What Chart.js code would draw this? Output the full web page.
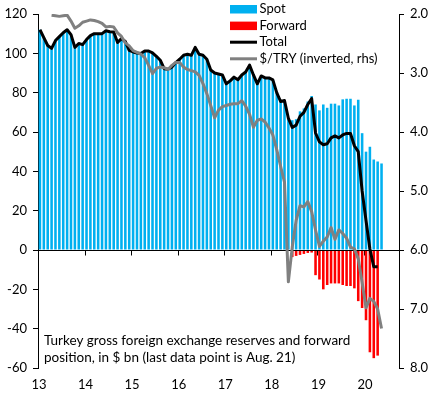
<!DOCTYPE html>
<html>
<head>
<meta charset="utf-8">
<script src="https://cdn.jsdelivr.net/npm/chart.js@4.4.0/dist/chart.umd.min.js"></script>
<style>
    html, body { margin: 0; padding: 0; background: #fff; }
    #wrap { width: 432px; height: 397px; }
</style>
</head>
<body>
<div id="wrap"><canvas id="reservesChart" width="432" height="397"></canvas></div>
<script>
// Monthly categories from Jan 2013; the axis runs a few months past the last bar
const monthNames = ['Jan', 'Feb', 'Mar', 'Apr', 'May', 'Jun', 'Jul', 'Aug', 'Sep', 'Oct', 'Nov', 'Dec'];
const categories = [];
for (let i = 0; i < 93; i++) {
    categories.push(monthNames[i % 12] + '-' + (13 + Math.floor(i / 12)));
}

const yearLabels = ['13', '14', '15', '16', '17', '18', '19', '20'];

// $ bn, left axis
const spot = [
    112, 108, 104, 102.5, 106.5, 108.5, 110.5, 112, 109.5, 103,
    105, 104.4, 107, 109, 110, 110, 110, 111.5, 111, 110.8,
    105.5, 107.5, 106, 101.5, 100.7, 100.2, 99.9, 101.2, 101.2, 100.2,
    98.5, 96.5, 92.2, 91.9, 93, 95.3, 97, 99, 99.5, 99,
    103, 99.5, 99, 97, 91.5, 90, 89.5, 89, 84.5, 86,
    87.9, 86.6, 89, 90.5, 94, 89, 84.5, 88.5, 87.5, 87.5,
    86.5, 80, 75.5, 76, 67, 66, 66.5, 70.5, 72, 75.5,
    78.3, 74, 71, 74, 72.3, 74.4, 74.4, 73.5, 76.6, 76.9,
    76.9, 73.5, 76.4, 59.4, 50, 52.5, 46, 45, 44, null,
    null, null, null
];

const forward = [
    0, 0, 0, 0, 0, 0, 0, 0, 0, 0,
    0, 0, 0, 0, 0, 0, 0, 0, 0, 0,
    0, 0, 0, 0, 0, 0, 0, 0, 0, 0,
    0, 0, 0, 0, 0, 0, 0, 0, 0, 0,
    0, 0, 0, 0, 0, 0, 0, 0, 0, 0,
    0, 0, 0, 0, 0, 0, 0, 0, 0, 0,
    0, 0, 0, 0, 0, -3.6, -3.0, -2.5, -2.0, -1.5,
    -1.3, -12.8, -15, -20, -17.8, -17, -17, -17, -17.8, -18.3,
    -18.3, -19.5, -26, -29.5, -35.7, -52, -55, -53.7, null, null,
    null, null, null
];

const total = [
    112, 108, 104, 102.5, 106.5, 108.5, 110.5, 112, 109.5, 103,
    105, 104.4, 107, 109, 110, 110, 110, 111.5, 111, 110.8,
    105.5, 107.5, 106, 101.5, 100.7, 100.2, 99.9, 101.2, 101.2, 100.2,
    98.5, 96.5, 92.2, 91.9, 93, 95.3, 97, 99, 99.5, 99,
    103, 99.5, 99, 97, 91.5, 90, 89.5, 89, 84.5, 86,
    87.9, 86.6, 89, 90.5, 94, 89, 84.5, 88.5, 87.5, 87.5,
    86.5, 80, 75.5, 76, 67, 62.3, 63.5, 68, 70, 74,
    77, 59.5, 55, 53.5, 54, 57, 58, 57, 58.5, 59.3,
    59.2, 53, 50, 30, 15, 0.5, -8.5, -8.5, null, null,
    null, null, null
];

// $/TRY, right axis (inverted)
const usdTry = [
    null, null, null, 2.02, 2.03, 2.04, 2.03, 2.02, 2.12, 2.24,
    2.2, 2.14, 2.12, 2.1, 2.11, 2.13, 2.16, 2.22, 2.21, 2.22,
    2.32, 2.38, 2.49, 2.54, 2.62, 2.65, 2.68, 2.74, 2.87, 3.01,
    2.92, 2.9, 2.91, 2.94, 2.87, 2.82, 2.82, 2.9, 2.94, 2.96,
    2.98, 3.04, 3.18, 3.35, 3.55, 3.76, 3.63, 3.57, 3.55, 3.53,
    3.52, 3.52, 3.47, 3.56, 3.7, 3.92, 3.8, 3.78, 3.83, 3.93,
    4.05, 4.3, 4.58, 4.85, 6.54, 5.95, 5.5, 5.25, 5.27, 5.18,
    5.35, 5.66, 5.94, 5.85, 5.78, 5.62, 5.82, 5.66, 5.72, 5.8,
    5.95, 5.98, 6.15, 6.55, 6.98, 6.82, 6.87, 7.0, 7.33, null,
    null, null, null
];

const FONT = 'Lato';

// Zero line across the plot, with year tick marks hanging below it
const zeroAxisPlugin = {
    id: 'zeroAxis',
    beforeDatasetsDraw(chart) {
        const { ctx, scales: { x, y } } = chart;
        const y0 = Math.round(y.getPixelForValue(0)) + 0.5;
        ctx.save();
        ctx.strokeStyle = '#000';
        ctx.lineWidth = 1;
        ctx.beginPath();
        for (let k = 12; k < categories.length; k += 12) {
            const xp = Math.round((x.getPixelForValue(k - 1) + x.getPixelForValue(k)) / 2) + 0.5;
            ctx.moveTo(xp, y0);
            ctx.lineTo(xp, y0 + 5);
        }
        ctx.stroke();
        ctx.restore();
    },
    afterDatasetDraw(chart, args) {
        if (args.index !== 0) return;
        const { ctx, chartArea, scales: { y } } = chart;
        const y0 = Math.round(y.getPixelForValue(0)) + 0.5;
        ctx.save();
        ctx.strokeStyle = '#000';
        ctx.lineWidth = 1;
        ctx.beginPath();
        ctx.moveTo(chartArea.left, y0);
        ctx.lineTo(chartArea.right, y0);
        ctx.stroke();
        ctx.restore();
    }
};

// Legend stacked in the top right corner
const cornerLegendPlugin = {
    id: 'cornerLegend',
    afterDraw(chart) {
        const ctx = chart.ctx;
        ctx.save();
        ctx.font = '13px ' + FONT;
        ctx.textBaseline = 'middle';
        chart.data.datasets.forEach((ds, i) => {
            const rowY = 9 + i * 16.6;
            if (ds.type === 'bar') {
                ctx.fillStyle = ds.backgroundColor;
                ctx.fillRect(230, rowY - 4, 27, 8.5);
            } else {
                ctx.strokeStyle = ds.borderColor;
                ctx.lineWidth = 3;
                ctx.beginPath();
                ctx.moveTo(230, rowY);
                ctx.lineTo(257, rowY);
                ctx.stroke();
            }
            ctx.fillStyle = '#000';
            ctx.fillText(ds.label, 259.5, rowY);
        });
        ctx.restore();
    }
};

// Note in the lower left of the plot
const notePlugin = {
    id: 'note',
    afterDraw(chart) {
        const ctx = chart.ctx;
        ctx.save();
        ctx.font = '13.5px ' + FONT;
        ctx.fillStyle = '#000';
        ctx.textBaseline = 'middle';
        ctx.fillText('Turkey gross foreign exchange reserves and forward', 44, 341);
        ctx.fillText('position, in $ bn (last data point is Aug. 21)', 44, 357.5);
        ctx.restore();
    }
};

function initChart() {
    const ctx = document.getElementById('reservesChart').getContext('2d');
    new Chart(ctx, {
        type: 'bar',
        data: {
            labels: categories,
            datasets: [
                {
                    type: 'bar',
                    label: 'Spot',
                    data: spot,
                    backgroundColor: '#00B0F0',
                    stack: 'reserves',
                    yAxisID: 'y',
                    barPercentage: 0.66,
                    categoryPercentage: 1.0,
                    order: 3
                },
                {
                    type: 'bar',
                    label: 'Forward',
                    data: forward,
                    backgroundColor: '#FF0000',
                    stack: 'reserves',
                    yAxisID: 'y',
                    barPercentage: 0.66,
                    categoryPercentage: 1.0,
                    order: 3
                },
                {
                    type: 'line',
                    label: 'Total',
                    data: total,
                    borderColor: '#000000',
                    borderWidth: 3,
                    pointRadius: 0,
                    tension: 0,
                    borderJoinStyle: 'round',
                    stack: 'total',
                    yAxisID: 'y',
                    order: 2
                },
                {
                    type: 'line',
                    label: '$/TRY (inverted, rhs)',
                    data: usdTry,
                    borderColor: '#808080',
                    borderWidth: 3,
                    pointRadius: 0,
                    tension: 0,
                    borderJoinStyle: 'round',
                    yAxisID: 'y2',
                    order: 1
                }
            ]
        },
        options: {
            responsive: false,
            animation: false,
            devicePixelRatio: 1,
            layout: { padding: { top: 14, left: 0, right: 0, bottom: 0 } },
            plugins: {
                legend: { display: false },
                tooltip: { enabled: false }
            },
            scales: {
                x: {
                    stacked: true,
                    offset: true,
                    grid: { display: false, drawTicks: false },
                    border: { display: false },
                    ticks: {
                        autoSkip: false,
                        maxRotation: 0,
                        minRotation: 0,
                        padding: 9,
                        labelOffset: -1,
                        color: '#000',
                        font: { family: FONT, size: 13 },
                        callback: (val, idx) => (idx % 12 === 0 ? yearLabels[idx / 12] : '')
                    },
                    afterFit: (scale) => { scale.height = 29; }
                },
                y: {
                    stacked: true,
                    position: 'left',
                    min: -60,
                    max: 120,
                    grid: { drawOnChartArea: false, tickLength: 5, tickColor: '#000' },
                    border: { display: true, color: '#000', width: 1 },
                    ticks: {
                        stepSize: 20,
                        padding: 6,
                        color: '#000',
                        font: { family: FONT, size: 13 }
                    },
                    afterFit: (scale) => { scale.width = 38; }
                },
                y2: {
                    position: 'right',
                    reverse: true,
                    min: 2,
                    max: 8,
                    grid: { drawOnChartArea: false, tickLength: 5, tickColor: '#000' },
                    border: { display: true, color: '#000', width: 1 },
                    ticks: {
                        stepSize: 1,
                        padding: 6,
                        color: '#000',
                        font: { family: FONT, size: 13 },
                        callback: (v) => v.toFixed(1)
                    },
                    afterFit: (scale) => { scale.width = 33; }
                }
            }
        },
        plugins: [zeroAxisPlugin, cornerLegendPlugin, notePlugin]
    });
}

initChart();
</script>
</body>
</html>
